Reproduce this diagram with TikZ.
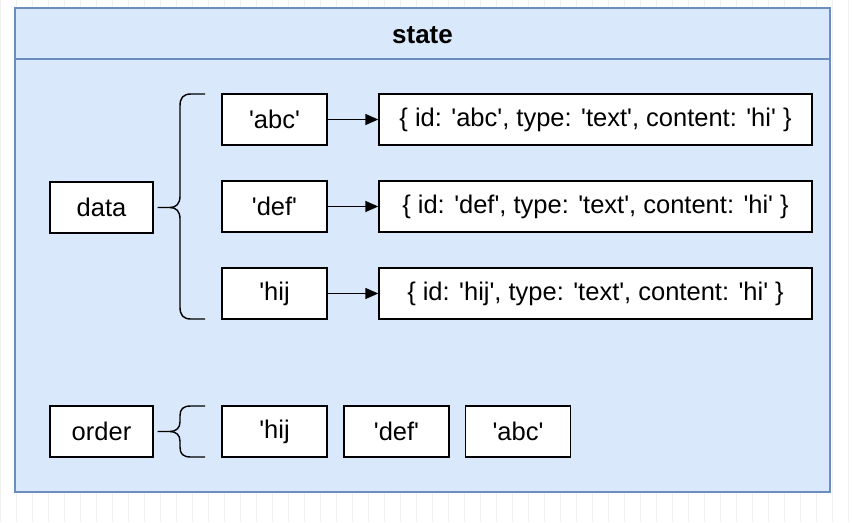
\documentclass[tikz,border=0pt]{standalone}
\usepackage{fontspec}
\setmainfont{Liberation Sans}[Ligatures=TeXOff]
\usetikzlibrary{arrows.meta}
\definecolor{panelfill}{HTML}{DAE8FC}
\definecolor{panelline}{HTML}{6C8EBF}
\definecolor{gridline}{HTML}{F0F0F0}
\tikzset{
  box/.style={draw=black, fill=white, line width=1.4pt, inner sep=0pt,
    minimum height=51pt, font=\fontsize{25.5}{30}\selectfont},
  keybox/.style={box, minimum width=105pt},
  valbox/.style={box, minimum width=433pt},
  link/.style={line width=1.4pt, -{Triangle[length=13pt,width=11pt]}},
  brace/.style={line width=1.4pt, line join=round},
}
\begin{document}
\begin{tikzpicture}[x=1pt,y=-1pt]
  \useasboundingbox (0,0) rectangle (853,522);
  % canvas grid
  \fill[white] (0,0) rectangle (853,522);
  \draw[gridline, line width=0.5pt] (0,0) grid[step=16] (853,522);
  % state container
  \draw[panelline, fill=panelfill, line width=1.3pt] (15,8) rectangle (830,492);
  \draw[panelline, line width=1.3pt] (15,59) -- (830,59);
  \node[font=\bfseries\fontsize{26}{30}\selectfont] (title) at (422.5,35) {state};

  % data branch
  \node[box, minimum width=103pt] (data) at (101.5,207.5) {data};
  \node[keybox] (kabc) at (274.5,119.5) {'abc'};
  \node[keybox] (kdef) at (274.5,206.5) {'def'};
  \node[keybox] (khij) at (274.5,293.5) {'hij};
  \node[valbox] (vabc) at (595.5,119.5) {\{ id: 'abc', type: 'text', content: 'hi' \}};
  \node[valbox] (vdef) at (595.5,206.5) {\{ id: 'def', type: 'text', content: 'hi' \}};
  \node[valbox] (vhij) at (595.5,293.5) {\{ id: 'hij', type: 'text', content: 'hi' \}};
  \draw[link] (kabc) -- (vabc);
  \draw[link] (kdef) -- (vdef);
  \draw[link] (khij) -- (vhij);

  \coordinate (dtop) at (205,94);
  \coordinate (dbot) at (205,319);
  \draw[brace] ([xshift=4pt]data.east) -- (170,207.5)
    .. controls (176,207.5) and (180,204) .. (180,196) -- (180,106)
    .. controls (180,98) and (183,94) .. (191,94) -- (dtop);
  \draw[brace] (170,207.5)
    .. controls (176,207.5) and (180,211) .. (180,219) -- (180,307)
    .. controls (180,315) and (183,319) .. (191,319) -- (dbot);

  % order branch
  \node[box, minimum width=103pt] (order) at (101.5,431.5) {order};
  \node[keybox] (ohij) at (274.5,431.5) {'hij};
  \node[keybox] (odef) at (396.5,431.5) {'def'};
  \node[keybox] (oabc) at (518,431.5) {'abc'};

  \coordinate (otop) at (205,406);
  \coordinate (obot) at (205,457);
  \draw[brace] ([xshift=4pt]order.east) -- (170,431.5)
    .. controls (176,431.5) and (180,428) .. (180,422) -- (180,416)
    .. controls (180,409) and (183,406) .. (191,406) -- (otop);
  \draw[brace] (170,431.5)
    .. controls (176,431.5) and (180,435) .. (180,441) -- (180,447)
    .. controls (180,454) and (183,457) .. (191,457) -- (obot);
\end{tikzpicture}
\end{document}
